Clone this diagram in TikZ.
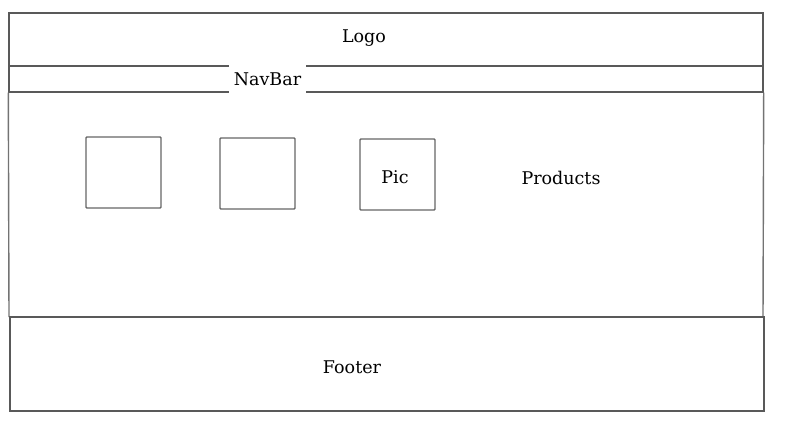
\documentclass[tikz,border=0pt]{standalone}
\usepackage{fontspec}
\setmainfont{DejaVu Serif}
\begin{document}
\begin{tikzpicture}[x=1pt,y=-1pt,
  frame/.style={draw=black!65,line width=1.4pt},
  pane/.style={draw=black!60,line width=1.4pt,rectangle,inner sep=0pt,minimum width=75pt,minimum height=71pt,rounded corners=0.8pt},
  lbl/.style={font=\fontsize{17.5}{20}\selectfont,text=black,inner sep=0pt}]
\useasboundingbox (0,0) rectangle (792,432);
% header (Logo)
\node[frame,rectangle,inner sep=0pt,minimum width=754pt,minimum height=53pt] (logo) at (386,39.5) {};
\node[lbl] (logot) at (364,38) {Logo};
% navbar
\node[frame,rectangle,inner sep=0pt,minimum width=754pt,minimum height=26pt] (nav) at (386,79) {};
\node[lbl,fill=white,minimum width=77pt,minimum height=30pt] (navt) at (267.5,79) {NavBar};
% content side lines
\coordinate (cl) at (9,317);
\coordinate (cr) at (763,317);
\draw[frame,draw=black!55] (nav.south west) -- (cl);
\draw[frame,draw=black!55] (nav.south east) -- (cr);
% pictures
\node[pane] (p1) at (123.5,172.5) {};
\node[pane] (p2) at (257.5,173.5) {};
\node[pane] (p3) at (397.5,174.5) {};
\node[lbl] (pict) at (395,177) {Pic};
\node[lbl] (prod) at (561,178) {Products};
% footer
\node[frame,rectangle,inner sep=0pt,minimum width=754pt,minimum height=94pt] (foot) at (387,364) {};
\node[lbl] (foott) at (352,367) {Footer};
\end{tikzpicture}
\end{document}
